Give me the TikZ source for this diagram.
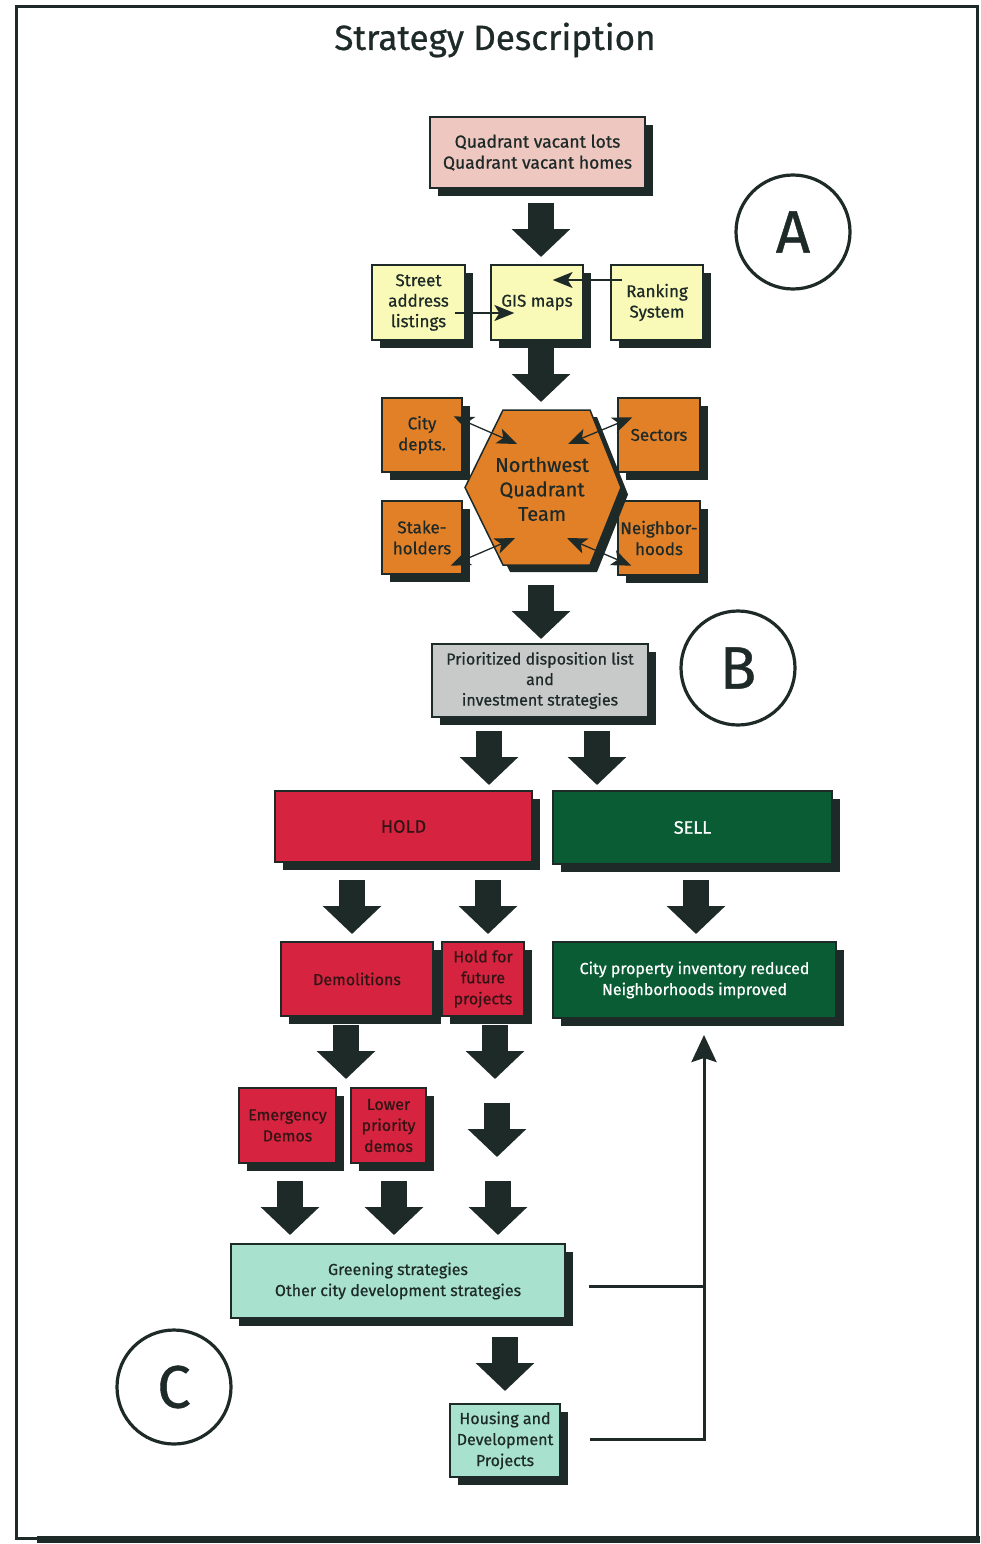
\documentclass[tikz,border=0pt]{standalone}
\usepackage{fontspec}
\setmainfont{Fira Sans}[FakeBold=0.7]
\usetikzlibrary{arrows.meta,shadows,calc}
\definecolor{ink}{RGB}{30,42,40}
\definecolor{pinkbox}{RGB}{238,200,192}
\definecolor{yellowbox}{RGB}{250,250,184}
\definecolor{orangebox}{RGB}{226,128,40}
\definecolor{graybox}{RGB}{200,202,202}
\definecolor{holdred}{RGB}{214,36,64}
\definecolor{sellgreen}{RGB}{10,92,52}
\definecolor{tealbox}{RGB}{168,226,206}
\definecolor{darktext}{RGB}{50,20,20}
\newcommand\myfs[2]{\fontsize{#1}{#2}\selectfont}
\begin{document}
\begin{tikzpicture}[x=1pt,y=1pt,
  box/.style={draw=ink, line width=1.3pt, align=center, inner sep=0pt, text=ink,
    drop shadow={shadow xshift=8pt, shadow yshift=-8pt, fill=ink, opacity=1}},
  blockarr/.style={draw=ink, line width=26pt, -{Triangle[width=57pt,length=28pt]}},
  thinarr/.style={draw=ink, line width=1.3pt, -{Stealth[length=20pt,width=16pt,inset=5pt]}},
  duoarr/.style={draw=ink, line width=1.3pt, {Stealth[length=20pt,width=16pt,inset=5pt]}-{Stealth[length=20pt,width=16pt,inset=5pt]}},
  fbline/.style={draw=ink, line width=3pt},
  letter/.style={circle, draw=ink, line width=3.2pt, minimum size=114pt, inner sep=0pt, text=ink, font=\myfs{60}{60}}
]
\useasboundingbox (0,0) rectangle (980,-1544);
% frame
\fill[ink] (37,-1536) rectangle (980,-1543);
\draw[ink, line width=3pt] (16,-7) rectangle (977,-1538);

% title
\node[text=ink, font=\myfs{35}{40}] (title) at (495,-40) {Strategy Description};

% circles
\node[letter] (A) at (793,-232) {A};
\node[letter] (B) at (738,-668) {B};
\node[letter] (C) at (174,-1387) {C};

% top boxes
\node[box, fill=pinkbox, minimum width=215pt, minimum height=71pt, font=\myfs{17.5}{21}] (src) at (537.5,-152.5) {Quadrant vacant lots\\Quadrant vacant homes};

\node[box, fill=yellowbox, minimum width=93pt, minimum height=75pt, font=\myfs{17}{20.5}] (street) at (418.5,-302.5) {Street\\address\\listings};
\node[box, fill=yellowbox, minimum width=92pt, minimum height=75pt, font=\myfs{17}{20.5}] (gis) at (537,-302.5) {GIS maps};
\node[box, fill=yellowbox, minimum width=92pt, minimum height=75pt, font=\myfs{17}{20.5}] (rank) at (657,-302.5) {Ranking\\System};

\draw[thinarr] ([shift={(-11,-10.5)}]street.east) -- ([shift={(24,-10.5)}]gis.west);
\draw[thinarr] ([shift={(12,22.5)}]rank.west) -- ([shift={(-31,22.5)}]gis.east);

% orange cluster
\node[box, fill=orangebox, minimum width=80pt, minimum height=74pt, font=\myfs{17}{21}] (city) at (422,-435) {City\\depts.};
\node[box, fill=orangebox, minimum width=82pt, minimum height=74pt, font=\myfs{17}{21}] (sectors) at (659,-435) {Sectors};
\node[box, fill=orangebox, minimum width=80pt, minimum height=73pt, font=\myfs{17}{21}] (stake) at (422,-537.5) {Stake-\\holders};
\node[box, fill=orangebox, minimum width=82pt, minimum height=74pt, font=\myfs{17}{21}] (neigh) at (659,-538) {Neighbor-\\hoods};

\begin{scope}[shift={(7,-7)}]
\fill[ink] (503,-410) -- (590,-410) -- (621,-487.5) -- (590,-565) -- (503,-565) -- (465,-487.5) -- cycle;
\end{scope}
\filldraw[fill=orangebox, draw=ink, line width=1.5pt] (503,-410) -- (590,-410) -- (621,-487.5) -- (590,-565) -- (503,-565) -- (465,-487.5) -- cycle;
\node[text=ink, align=center, font=\myfs{20}{24.5}] (team) at (542,-489) {Northwest\\Quadrant\\Team};

\draw[duoarr] ([shift={(-9,-19)}]city.north east) -- ($(team)+(-25,45)$);
\draw[duoarr] ([shift={(15,-20)}]sectors.north west) -- ($(team)+(26,45)$);
\draw[duoarr] ([shift={(-12,9)}]stake.south east) -- ($(team)+(-27,-49)$);
\draw[duoarr] ([shift={(14,10)}]neigh.south west) -- ($(team)+(25,-49)$);

% B level
\node[box, fill=graybox, minimum width=216pt, minimum height=73pt, font=\myfs{16}{20.5}] (list) at (540,-680.5) {Prioritized disposition list\\and\\investment strategies};

\node[box, fill=holdred, minimum width=257pt, minimum height=71pt, font=\myfs{18}{21}, text=darktext] (hold) at (403.5,-826.5) {HOLD};
\node[box, fill=sellgreen, minimum width=279pt, minimum height=73pt, font=\myfs{18}{21}, text=white] (sell) at (692.5,-827.5) {SELL};

\node[box, fill=holdred, minimum width=152pt, minimum height=74pt, font=\myfs{16}{21}, text=darktext] (demo) at (357,-979) {Demolitions};
\node[box, fill=holdred, minimum width=82pt, minimum height=74pt, font=\myfs{16}{21}, text=darktext] (future) at (483,-979) {Hold for\\future\\projects};
\node[box, fill=sellgreen, minimum width=283pt, minimum height=76pt, font=\myfs{16}{21}, text=white] (inv) at (694.5,-980) {City property inventory reduced\\Neighborhoods improved};

\node[box, fill=holdred, minimum width=97pt, minimum height=75pt, font=\myfs{16}{21}, text=darktext] (emerg) at (287.5,-1125.5) {Emergency\\Demos};
\node[box, fill=holdred, minimum width=75pt, minimum height=75pt, font=\myfs{16}{21}, text=darktext] (lower) at (388.5,-1125.5) {Lower\\priority\\demos};

% C level
\node[box, fill=tealbox, minimum width=334pt, minimum height=74pt, font=\myfs{16}{21}] (green) at (398,-1281) {Greening strategies\\Other city development strategies};
\node[box, fill=tealbox, minimum width=110pt, minimum height=73pt, font=\myfs{16}{21}] (housing) at (505,-1440.5) {Housing and\\Development\\Projects};

% block arrows
\draw[blockarr] (541,-203) -- (541,-257);
\draw[blockarr] (541,-348) -- (541,-402);
\draw[blockarr] (541,-585) -- (541,-639);
\draw[blockarr] (489,-731) -- (489,-785);
\draw[blockarr] (597,-731) -- (597,-785);
\draw[blockarr] (352,-880) -- (352,-934);
\draw[blockarr] (488,-880) -- (488,-934);
\draw[blockarr] (696,-880) -- (696,-934);
\draw[blockarr] (346,-1025) -- (346,-1079);
\draw[blockarr] (495,-1025) -- (495,-1079);
\draw[blockarr] (497,-1103) -- (497,-1157);
\draw[blockarr] (290,-1181) -- (290,-1235);
\draw[blockarr] (394,-1181) -- (394,-1235);
\draw[blockarr] (498,-1181) -- (498,-1235);
\draw[blockarr] (505,-1337) -- (505,-1391);

% feedback connectors
\coordinate (fbtop) at (704,-1035);
\coordinate (fbg) at ([shift={(23,-5)}]green.east);
\coordinate (fbh) at ([shift={(29,1.5)}]housing.east);
\draw[fbline] (fbg) -- (fbg -| fbtop);
\draw[fbline, -{Stealth[length=27pt,width=25pt,inset=4pt]}] (fbh) -| (fbtop);
\end{tikzpicture}
\end{document}
